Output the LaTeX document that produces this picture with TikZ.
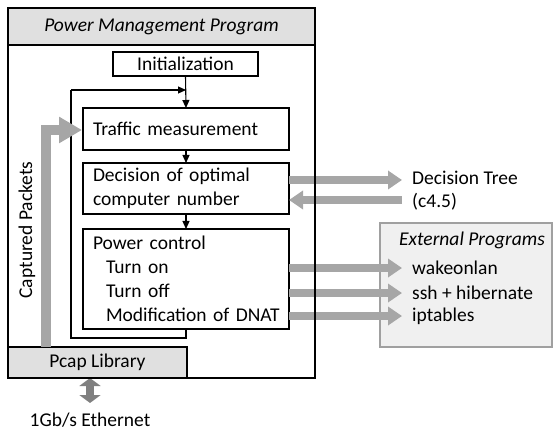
\documentclass[tikz,border=0pt]{standalone}
\usepackage{fontspec}
\setmainfont{Carlito}
\usetikzlibrary{arrows.meta}
\definecolor{garrow}{HTML}{A6A6A6}
\definecolor{darrow}{HTML}{808080}
\definecolor{hdrfill}{HTML}{E0E0E0}
\definecolor{extfill}{HTML}{F0F0F0}
\definecolor{extline}{HTML}{A0A0A0}
\begin{document}
\begin{tikzpicture}[x=1pt,y=-1pt,
  font=\fontsize{19.5}{24}\selectfont,
  lbox/.style={draw, line width=1.2pt, minimum width=206pt, inner xsep=10pt, inner ysep=0pt,
    text width=186pt, align=left, outer sep=0pt},
  cbox/.style={draw, line width=1.2pt, inner sep=0pt, outer sep=0pt, align=center},
  arr/.style={line width=1.1pt, -{Triangle[width=7pt,length=8pt]}},
  garr/.style={line width=8pt, garrow, -{Triangle[width=18pt,length=14pt]}},
  lbl/.style={anchor=west, inner sep=0pt, align=left}
]
\useasboundingbox (0,0) rectangle (556,430);

% header and frames
\node[cbox, fill=hdrfill, minimum width=307pt, minimum height=37pt, font=\fontsize{19.5}{24}\selectfont\itshape] (header) at (161.5,26.5) {Power Management Program};
\node[cbox, minimum width=145pt, minimum height=24pt] (init) at (185.5,64) {Initialization};
\node[lbox, minimum height=42pt] (traffic) at (186,129) {Traffic measurement};
\node[lbox, minimum height=51pt] (decision) at (186,188.5) {Decision of optimal\\computer number};
\node[lbox, minimum height=100pt] (power) at (186,279) {Power control\\\hspace*{13pt}Turn on\\\hspace*{13pt}Turn off\\\hspace*{13pt}\mbox{Modification of DNAT}};
\node[cbox, fill=hdrfill, minimum width=179pt, minimum height=31pt] (pcap) at (97.5,362.5) {Pcap Library};

% external programs box
\node[draw=extline, fill=extfill, line width=1.2pt, minimum width=172pt, minimum height=124pt, inner sep=0pt] (ext) at (466,285) {};
\node[inner sep=0pt, font=\fontsize{19.5}{24}\selectfont\itshape] (exttitle) at (472,240) {External Programs};
\node[lbl] (wol) at (412,268) {wakeonlan};
\node[lbl] (ssh) at (412,293) {ssh + hibernate};
\node[lbl] (ipt) at (412,316) {iptables};
\node[lbl] (dtree) at (412,178) {Decision Tree};
\node[lbl] (c45) at (412,202) {(c4.5)};

% captured packets label
\node[rotate=90, inner sep=0pt] (capt) at (27,230) {Captured Packets};
\node[inner sep=0pt] (eth) at (90,420) {1Gb/s Ethernet};

% coordinates
\coordinate (loopbl) at (71,338);
\coordinate (looptl) at (71,90);
\coordinate (loopj) at (186,90);
\coordinate (dtout) at (402,180);
\coordinate (dtin) at (402,200);
\coordinate (wolp) at (402,268);
\coordinate (sshp) at (402,293);
\coordinate (iptp) at (402,316);
\coordinate (capbot) at (46,347);
\coordinate (capcorner) at (46,130);
\coordinate (captip) at (82,130);
\coordinate (ethtop) at (90,378);
\coordinate (ethbot) at (90,403);

% black flow
\draw[arr] (init.south) -- (traffic.north);
\draw[arr] (traffic.south) -- (decision.north);
\draw[arr] (decision.south) -- (power.north);
\draw[line width=1.2pt] (power.south) |- (loopbl) -- (looptl);
\draw[arr] (looptl) -- (loopj);

% gray arrows
\draw[garr] (decision.east |- dtout) -- (dtout);
\draw[garr] (dtin) -- (decision.east |- dtin);
\draw[garr] (power.east |- wolp) -- (wolp);
\draw[garr] (power.east |- sshp) -- (sshp);
\draw[garr] (power.east |- iptp) -- (iptp);
\draw[line width=10pt, garrow, line join=miter, -{Triangle[width=25pt,length=23pt]}] (capbot) -- (capcorner) -- (captip);
\draw[line width=8pt, darrow, {Triangle[width=21pt,length=8pt]}-{Triangle[width=21pt,length=8pt]}] (ethtop) -- (ethbot);

% outer frame
\draw[line width=1.2pt] (8,8) rectangle (315,378);
\end{tikzpicture}
\end{document}
